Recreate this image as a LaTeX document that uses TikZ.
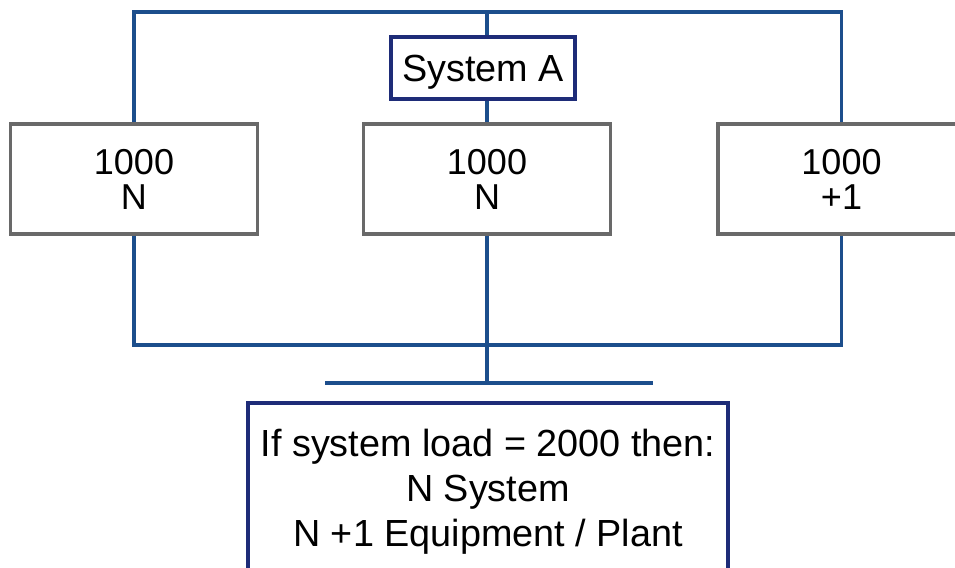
\documentclass[tikz,border=0pt]{standalone}
\usepackage{fontspec}
\setmainfont{Liberation Sans}
\definecolor{busblue}{RGB}{28,78,140}
\definecolor{framenavy}{RGB}{30,44,120}
\definecolor{framegray}{RGB}{105,105,105}
\begin{document}
\begin{tikzpicture}[x=0.02cm, y=-0.02cm,
  bus/.style={busblue, line width=1.9pt},
  unit/.style={draw=framegray, line width=1.9pt, fill=white, align=center,
    minimum width=4.94cm, minimum height=2.2cm, font=\fontsize{20.5}{20}\selectfont},
  labelbox/.style={draw=framenavy, line width=1.9pt, fill=white, align=center}]
  \useasboundingbox (0,0) rectangle (955,567);
  \clip (0,0) rectangle (955,567);
  \node[labelbox, minimum width=3.68cm, minimum height=1.24cm, text depth=0pt,
    font=\fontsize{21.5}{24}\selectfont] (sysA) at (483,68) {System A};
  \node[unit] (left) at (134,179) {1000\\N};
  \node[unit] (mid) at (487,179) {1000\\N};
  \node[unit] (right) at (841.5,179) {1000\\+1};
  \node[labelbox, minimum width=9.6cm, minimum height=3.56cm,
    font=\fontsize{21.5}{25.6}\selectfont] (result) at (488,492)
    {If system load = 2000 then:\\N System\\N +1 Equipment / Plant};
  \coordinate (topR) at (841.5,12);
  \coordinate (botR) at (841.5,345);
  \coordinate (tap) at (487,383);
  \coordinate (barL) at (325,383);
  \coordinate (barR) at (653,383);
  \draw[bus] (left.north) |- (topR) -- (right.north);
  \draw[bus] (mid.north |- topR) -- (mid.north |- sysA.north);
  \draw[bus] (mid.north |- sysA.south) -- (mid.north);
  \draw[bus] (left.south) |- (botR) -- (right.south);
  \draw[bus] (mid.south) -- (tap);
  \draw[bus] (barL) -- (barR);
\end{tikzpicture}
\end{document}
